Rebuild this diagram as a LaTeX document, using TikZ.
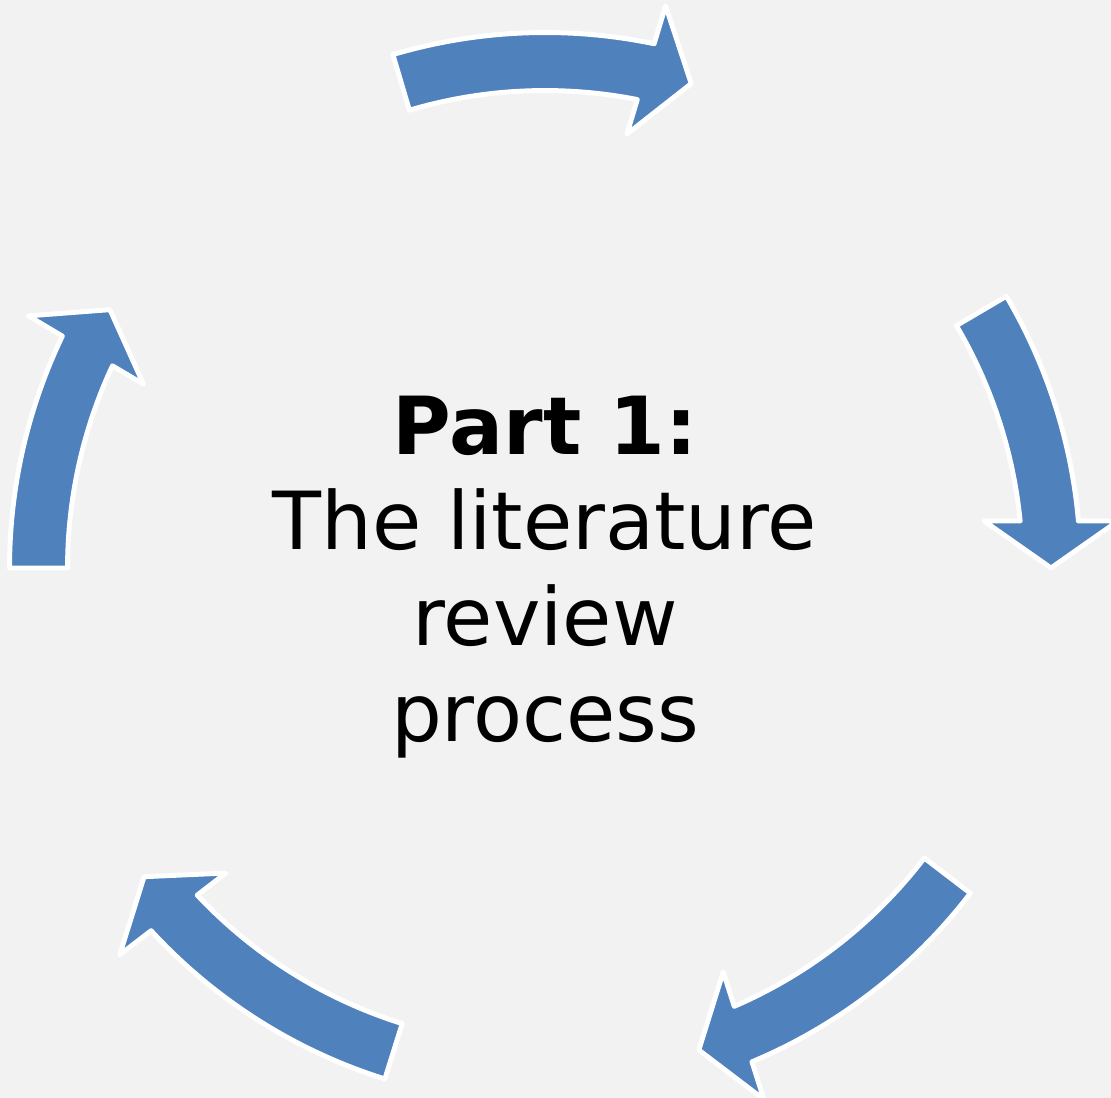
\documentclass[tikz,border=0pt]{standalone}
\usepackage{xcolor}
\usepackage{fontspec}
\setmainfont{DejaVu Sans}
\usepackage{tikz}

\definecolor{arrowblue}{HTML}{4F81BD}
\definecolor{pagegray}{HTML}{F2F2F2}

\begin{document}
\begin{tikzpicture}[
    arrowshape/.style={fill=arrowblue, draw=white, line width=1.4pt, line join=round},
    textline/.style={anchor=base, inner sep=0pt, font=\fontsize{22.8}{27}\selectfont}
  ]
   \fill[pagegray] (-5.45,-5.30) rectangle (5.66,5.68);
   \useasboundingbox (-5.45,-5.30) rectangle (5.66,5.68);

   % five curved arrows, clockwise: tip angle / span back to the tail
   \foreach \tip/\span [count=\i] in {
       73.2/33.3,
       0/30.5,
       -72.3/34.9,
       -142.4/35,
       149.3/30.7
   }{
       \begin{scope}[rotate=\tip]
           \filldraw[arrowshape] (\span:5.355) arc[start angle=\span, end angle=5.04, radius=5.355]
               -- (5.73,0.47) -- (5.06,0) -- (4.39,0.47) -- (5.65:4.775)
               arc[start angle=5.65, end angle=\span, radius=4.775] -- cycle;
       \end{scope}
   }

   \foreach \txt/\yy [count=\i] in {
       {\textbf{Part 1:}}/1.13,
       {The literature}/0.18,
       {review}/-0.78,
       {process}/-1.74
   }{
       \node[textline] (line\i) at (0,\yy) {\txt};
   }

\end{tikzpicture}
\end{document}
